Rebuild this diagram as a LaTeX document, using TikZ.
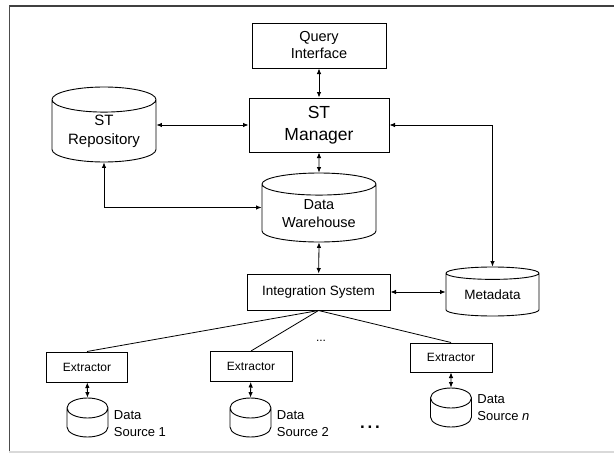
\documentclass[tikz,border=0pt]{standalone}
\usepackage{fontspec}
\setmainfont{Liberation Sans}
\usetikzlibrary{arrows.meta,shapes.geometric}

\begin{document}
\begin{tikzpicture}[x=1pt,y=-1pt,
  box/.style={draw, line width=1pt, fill=white, inner sep=0pt, align=center},
  store/.style={draw, cylinder, shape border rotate=90, anchor=shape center, line width=0.9pt, fill=white, inner sep=0pt, align=center},
  source/.style={store, inner xsep=20pt, minimum width=41, minimum height=39, aspect=0.5},
  link/.style={line width=0.8pt, {Latex[length=5.5pt,width=4.5pt]}-{Latex[length=5.5pt,width=4.5pt]}},
  wire/.style={line width=0.8pt}]
\useasboundingbox (0,0) rectangle (614,455);
\draw[black!75, line width=2.5pt] (9,6) -- (614,6);
\draw[black!70, line width=1.5pt] (9.5,5) -- (9.5,452);
\draw[black!15, line width=1.5pt] (9,452) -- (614,452);
\node[box, minimum width=134, minimum height=45, font=\fontsize{14.5}{17}\selectfont] (qi) at (319,45.5) {Query\\Interface};
\node[box, minimum width=140, minimum height=54, font=\fontsize{17.5}{22}\selectfont] (stm) at (319,125) {ST\\Manager};
\node[store, minimum width=104, minimum height=75, aspect=0.35, font=\fontsize{15}{19}\selectfont] (str) at (104,124.5) {ST\\Repository};
\node[store, minimum width=114, minimum height=69, aspect=0.3, font=\fontsize{14.5}{18}\selectfont] (dw) at (319,207.5) {Data\\Warehouse};
\node[box, minimum width=143, minimum height=36, font=\fontsize{13.5}{16}\selectfont] (is) at (318.5,292) {Integration System};
\node[store, minimum width=93, minimum height=49, aspect=0.22, font=\fontsize{13.5}{16}\selectfont] (md) at (492.5,291.5) {Metadata};
% sources
\node[box, minimum width=81, minimum height=30, font=\fontsize{12}{14}\selectfont] (ex1) at (87,367) {Extractor};
\node[box, minimum width=82, minimum height=30, font=\fontsize{12}{14}\selectfont] (ex2) at (251,366.5) {Extractor};
\node[box, minimum width=82, minimum height=29, font=\fontsize{12}{14}\selectfont] (exn) at (451,357.5) {Extractor};
\node[source, label={[align=left, font=\fontsize{13}{17}\selectfont, xshift=2, yshift=4.5]right:Data\\Source 1}] (ds1) at (87.5,417.5) {};
\node[source, label={[align=left, font=\fontsize{13}{17}\selectfont, xshift=2, yshift=4.5]right:Data\\Source 2}] (ds2) at (250.5,417.5) {};
\node[source, label={[align=left, font=\fontsize{13}{17}\selectfont, xshift=2, yshift=10.5]right:Data\\Source \textit{n}}] (dsn) at (451,407.5) {};
\node[font=\fontsize{12}{14}\selectfont] (dots1) at (321,341) {...};
\node[font=\fontsize{17}{17}\selectfont\bfseries] (dots2) at (370,427) {.\,.\,.};
% connectors
\draw[link] (qi) -- (stm);
\draw[link] (stm.west -| str.east) -- (stm.west);
\draw[link] (stm) -- (dw.north);
\draw[link] (str.south) |- (dw.shape center -| dw.west);
\draw[link] (stm.east) -| (md.north);
\draw[link] (dw.south) -- (is);
\draw[link] (is) -- (is.east -| md.west);
\draw[wire] (is.south) -- (ex1.north);
\draw[wire] (is.south) -- (ex2.north);
\draw[wire] (is.south) -- (exn.north);
\draw[link] (ex1) -- (ds1.north);
\draw[link] (ex2) -- (ds2.north);
\draw[link] (exn) -- (dsn.north);
\end{tikzpicture}
\end{document}
